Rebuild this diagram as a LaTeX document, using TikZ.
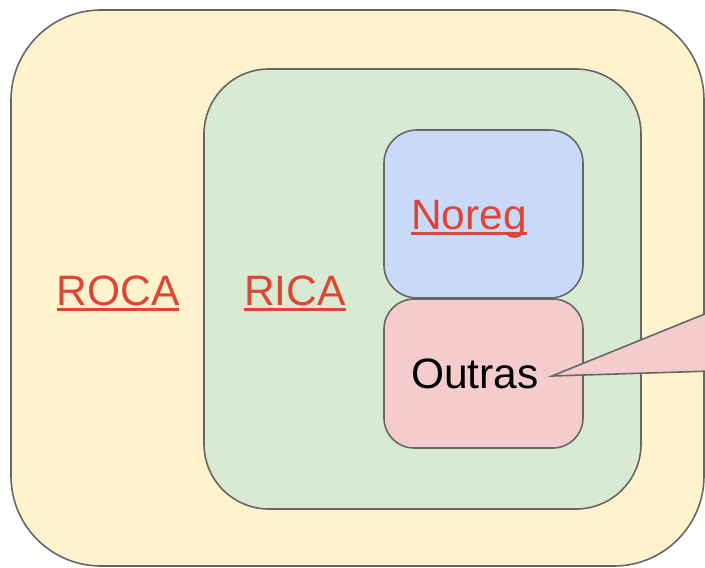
\documentclass[tikz,border=0pt]{standalone}
\usepackage{fontspec}
\setmainfont{Liberation Sans}
\definecolor{yel}{HTML}{FFF2CC}
\definecolor{grn}{HTML}{D9EAD3}
\definecolor{blu}{HTML}{C9DAF8}
\definecolor{pnk}{HTML}{F4CCCC}
\definecolor{strk}{HTML}{666666}
\definecolor{lnkred}{HTML}{DD4636}
\newsavebox\ulbox
\newcommand\lnk[1]{\sbox\ulbox{#1}\rlap{\usebox\ulbox}\rule[-6pt]{\wd\ulbox}{3.5pt}}
\tikzset{
  box/.style={draw=strk, line width=1.6pt, inner sep=0pt},
  lbl/.style={anchor=base west, inner sep=0pt, font=\fontsize{42.5}{50}\selectfont},
  lnklbl/.style={lbl, text=lnkred}
}
\begin{document}
\begin{tikzpicture}[x=1pt,y=-1pt]
\useasboundingbox (0,0) rectangle (705,568);
\clip (0,0) rectangle (705,568);
\node[box, fill=yel, rounded corners=90pt, minimum width=693pt, minimum height=556pt] (roca) at (357.5,288) {};
\node[box, fill=grn, rounded corners=65pt, minimum width=437pt, minimum height=440pt] (rica) at (422.5,289) {};
\node[box, fill=blu, rounded corners=33pt, minimum width=199pt, minimum height=168pt] (noreg) at (483.5,214) {};
\node[box, fill=pnk, rounded corners=30pt, minimum width=199pt, minimum height=149pt] (outras) at (483.5,373.5) {};
\coordinate (tip) at (552,376);
\coordinate (c1) at (760,291.5);
\coordinate (c2) at (760,369.5);
\draw[draw=strk, line width=1.6pt, fill=pnk, line join=miter] (tip) -- (c1) -- (c2) -- cycle;
\node[lnklbl] (tRoca) at (56.5,305) {\lnk{ROCA}};
\node[lnklbl] (tRica) at (244,305) {\lnk{RICA}};
\node[lnklbl] (tNoreg) at (411,229) {\lnk{Noreg}};
\node[lbl] (tOutras) at (411,388) {Outras};
\end{tikzpicture}
\end{document}
